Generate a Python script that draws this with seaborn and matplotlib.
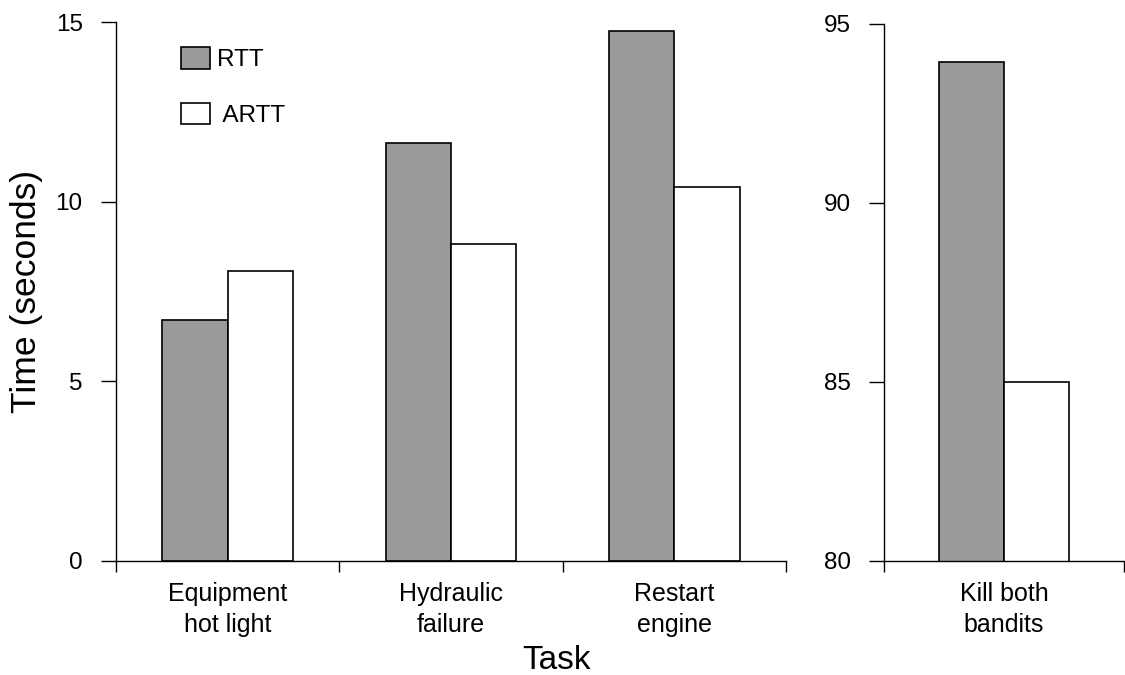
import pandas as pd
import matplotlib
matplotlib.use('Agg')
import matplotlib.pyplot as plt
import seaborn as sns

# values
tasks_short = ['Equipment\nhot light', 'Hydraulic\nfailure', 'Restart\nengine']
rtt_short = [6.72, 11.62, 14.76]
artt_short = [8.07, 8.82, 10.41]
tasks_long = ['Kill both\nbandits']
rtt_long = [93.95]
artt_long = [85.0]
methods = ['RTT', 'ARTT']
colors = {'RTT': '#9a9a9a', 'ARTT': 'white'}

df_short = pd.DataFrame({'Task': tasks_short * 2,
                         'Method': ['RTT'] * 3 + ['ARTT'] * 3,
                         'Time': rtt_short + artt_short})
df_long = pd.DataFrame({'Task': tasks_long * 2,
                        'Method': methods,
                        'Time': rtt_long + artt_long})

sns.set_style('white')
plt.rcParams['font.family'] = ['Liberation Sans', 'DejaVu Sans']
plt.rcParams['text.color'] = 'black'
plt.rcParams['axes.labelcolor'] = 'black'
plt.rcParams['xtick.color'] = 'black'
plt.rcParams['ytick.color'] = 'black'

fig = plt.figure(figsize=(11.25, 6.75), dpi=100)
ax1 = fig.add_axes([0.1031, 0.1689, 0.5956, 0.7985])
ax2 = fig.add_axes([0.7858, 0.1689, 0.2133, 0.7956])

sns.barplot(data=df_short, x='Task', y='Time', hue='Method', hue_order=methods,
            palette=colors, width=0.585, gap=0, edgecolor='black', linewidth=1.2,
            ax=ax1)
sns.barplot(data=df_long, x='Task', y='Time', hue='Method', hue_order=methods,
            palette=colors, width=0.54, gap=0, edgecolor='black', linewidth=1.2,
            ax=ax2, legend=False)

for ax, lo, hi, n in [(ax1, 0, 15, 3), (ax2, 80, 95, 1)]:
    ax.set_ylim(lo, hi)
    ax.set_yticks(range(lo, hi + 1, 5))
    ax.set_xlim(-0.5, n - 0.5)
    ax.set_xticks([i - 0.5 for i in range(n + 1)], minor=False)
    ax.set_xticklabels([])
    ax.set_xticks(range(n), minor=True)
    ax.set_xticklabels(tasks_short if n == 3 else tasks_long, minor=True,
                       fontsize=18, linespacing=1.4)
    ax.tick_params(axis='x', which='minor', length=0, pad=15)
    ax.tick_params(axis='x', which='major', direction='out', length=8,
                   width=1, bottom=True)
    ax.tick_params(axis='y', direction='out', length=11, width=1,
                   left=True, labelsize=17.5, pad=13)
    for s in ['top', 'right']:
        ax.spines[s].set_visible(False)
    for s in ['left', 'bottom']:
        ax.spines[s].set_color('black')
        ax.spines[s].set_linewidth(1)
    ax.set_xlabel('')
    ax.set_ylabel('')

ax1.set_ylabel('Time (seconds)', fontsize=25.5, labelpad=9)
fig.text(0.495, 0.022, 'Task', fontsize=24, ha='center', va='center')

handles, _ = ax1.get_legend_handles_labels()
ax1.legend(handles, ['RTT', ' ARTT'], frameon=False, loc='upper left',
           bbox_to_anchor=(0.082, 0.972), fontsize=17.5, handlelength=1.2,
           handleheight=1.0, labelspacing=1.3, handletextpad=0.3,
           borderaxespad=0)

fig.savefig('out.png', dpi=100)
